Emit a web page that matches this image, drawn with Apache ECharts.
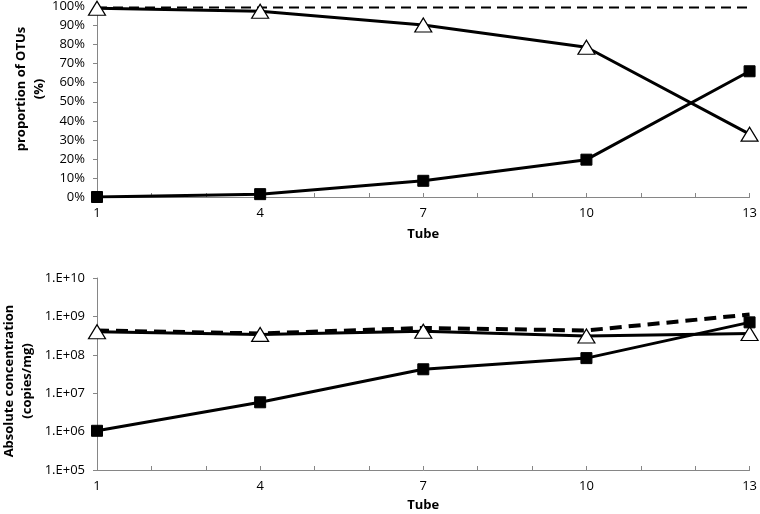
<!DOCTYPE html>
<html><head><meta charset="utf-8">
<script src="https://cdn.jsdelivr.net/npm/echarts@6/dist/echarts.min.js"></script>
<style>html,body{margin:0;padding:0;background:#fff}#c{width:760px;height:514px}</style>
</head><body><div id="c"></div>
<script>
var tubes = [1, 4, 7, 10, 13];
var xTickLabels = ['1', '4', '7', '10', '13'];
var propTriangle = [99.1, 97.5, 90.3, 78.6, 33];
var propSquare = [0, 1.5, 8.5, 19.6, 66];
var propTotal = [99.5, 99.5, 99.5, 99.5, 99.5];
var absTriangle = [4.0e8, 3.4e8, 4.1e8, 3.1e8, 3.6e8];
var absSquare = [1.05e6, 5.8e6, 4.2e7, 8.2e7, 7.0e8];
var absTotal = [4.3e8, 3.6e8, 5.0e8, 4.3e8, 1.12e9];

function pairs(xs, ys){ return xs.map(function(x,i){ return [x, ys[i]]; }); }
var font = 'Open Sans';
var axisGray = '#868686';
function xAxisDef(gi, gap){
  return {
    type:'value', gridIndex:gi, min:1, max:13, interval:1,
    name:'Tube', nameLocation:'middle', nameGap:gap,
    nameTextStyle:{fontFamily:font, fontWeight:'bold', fontSize:13, color:'#000'},
    axisLine:{onZero:false, lineStyle:{color:axisGray, width:1}},
    axisTick:{inside:true, length:4, lineStyle:{color:axisGray}},
    splitLine:{show:false},
    axisLabel:{fontFamily:font, fontSize:13, color:'#000', margin:10,
      formatter:function(v){ var i = tubes.indexOf(v); return i>=0 ? xTickLabels[i] : ''; }}
  };
}
var titleStyle = {fontFamily:font, fontWeight:'bold', fontSize:13, fill:'#000', align:'center', verticalAlign:'middle', lineHeight:18};
var option = {
  animation:false,
  grid:[
    {left:97, right:8, top:6, bottom:317},
    {left:97, right:8, top:278, bottom:44}
  ],
  graphic:[
    {type:'text', x:30, y:89, rotation:Math.PI/2,
     style:Object.assign({text:'proportion of OTUs\n(%)'}, titleStyle)},
    {type:'text', x:18, y:381, rotation:Math.PI/2,
     style:Object.assign({text:'Absolute concentration\n(copies/mg)'}, titleStyle)}
  ],
  xAxis:[xAxisDef(0, 31), xAxisDef(1, 29)],
  yAxis:[
    {type:'value', gridIndex:0, min:0, max:100, interval:10,
     axisLine:{show:true, onZero:false, lineStyle:{color:axisGray}},
     axisTick:{show:true, length:4, lineStyle:{color:axisGray}},
     splitLine:{show:false},
     axisLabel:{fontFamily:font, fontSize:13, color:'#000', margin:12, formatter:'{value}%'}},
    {type:'log', gridIndex:1, logBase:10, min:1e5, max:1e10, interval:1,
     axisLine:{show:true, onZero:false, lineStyle:{color:axisGray}},
     axisTick:{show:true, length:4, lineStyle:{color:axisGray}},
     splitLine:{show:false},
     axisLabel:{fontFamily:font, fontSize:13, color:'#000', margin:12,
       formatter:function(v){ var e = Math.round(Math.log10(v)); return '1.E+' + (e<10?'0':'') + e; }}}
  ],
  series:[
    {type:'line', xAxisIndex:0, yAxisIndex:0, data:pairs(tubes, propTotal), symbol:'none',
     lineStyle:{color:'#000', width:2, type:[10,6]}, z:3},
    {type:'line', xAxisIndex:0, yAxisIndex:0, data:pairs(tubes, propTriangle), symbol:'triangle', symbolSize:[17,14],
     lineStyle:{color:'#000', width:3}, itemStyle:{color:'#fff', borderColor:'#000', borderWidth:1.2}, z:4},
    {type:'line', xAxisIndex:0, yAxisIndex:0, data:pairs(tubes, propSquare), symbol:'rect', symbolSize:11,
     lineStyle:{color:'#000', width:3}, itemStyle:{color:'#000', borderColor:'#000'}, z:4},
    {type:'line', xAxisIndex:1, yAxisIndex:1, data:pairs(tubes, absTriangle), symbol:'triangle', symbolSize:[17,14],
     lineStyle:{color:'#000', width:3}, itemStyle:{color:'#fff', borderColor:'#000', borderWidth:1.2}, z:4},
    {type:'line', xAxisIndex:1, yAxisIndex:1, data:pairs(tubes, absSquare), symbol:'rect', symbolSize:11,
     lineStyle:{color:'#000', width:3}, itemStyle:{color:'#000', borderColor:'#000'}, z:4},
    {type:'line', xAxisIndex:1, yAxisIndex:1, data:pairs(tubes, absTotal), symbol:'none',
     lineStyle:{color:'#000', width:4, type:[12,7]}, z:3}
  ]
};
var chart = echarts.init(document.getElementById('c'), null, {renderer:'canvas'});
chart.setOption(option);
</script></body></html>
